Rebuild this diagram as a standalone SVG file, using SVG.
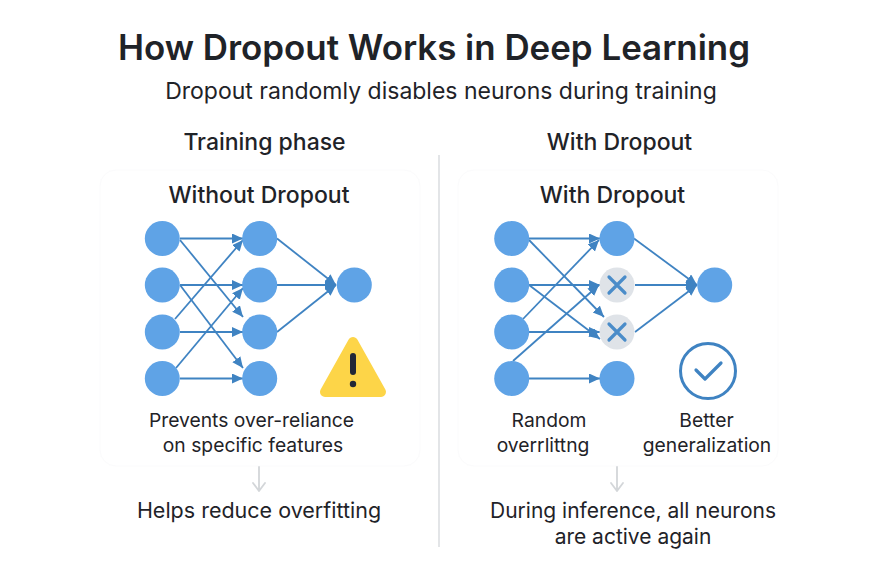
<svg xmlns="http://www.w3.org/2000/svg" width="879" height="579" viewBox="0 0 879 579">
<style>
text{font-family:Inter,"Liberation Sans",sans-serif;fill:#1f2328;text-anchor:middle}
.t{font-size:34.900px;font-weight:600}
.s{font-size:23px}
.h{font-size:23px;font-weight:500}
.b{font-size:19.300px}
.c{font-size:21.500px}
.c2{font-size:21px}
.n{fill:#5fa3e6}
.d{fill:#dfe3e8}
.e{stroke:#3f83c2;stroke-width:1.800;fill:none;marker-end:url(#a)}
.x{stroke:#4a8cc9;stroke-width:3.200;stroke-linecap:round;fill:none}
.g{stroke:#d3d6d9;stroke-width:1.800;fill:none;stroke-linecap:round;stroke-linejoin:round}
.p{fill:#fff;stroke:#fbfbfc;stroke-width:1}
</style>
<defs>
<marker id="a" markerUnits="userSpaceOnUse" markerWidth="13" markerHeight="11" refX="11" refY="5" orient="auto"><path d="M0 0L11 5L0 10Z" fill="#3f83c2"/></marker>
</defs>
<rect width="879" height="579" fill="#fff"/>
<text class="t" x="434" y="60">How Dropout Works in Deep Learning</text>
<text class="s" x="441" y="99">Dropout randomly disables neurons during training</text>
<text class="h" x="264.500" y="150">Training phase</text>
<text class="h" x="619.500" y="150">With Dropout</text>
<line x1="439" y1="155" x2="439" y2="547" stroke="#dcdfe2" stroke-width="1.600"/>
<rect id="panel-left" class="p" x="100" y="170" width="320" height="296" rx="16"/>
<rect id="panel-right" class="p" x="458" y="170" width="320" height="296" rx="16"/>
<text class="h" x="259" y="203">Without Dropout</text>
<text class="h" x="612.500" y="203">With Dropout</text>
<g id="connectors">
<path class="e" d="M180 238.500H243"/>
<path class="e" d="M180 240L243 317"/>
<path class="e" d="M180 285H243"/>
<path class="e" d="M180 285L243 368"/>
<path class="e" d="M175 319L243 240"/>
<path class="e" d="M180 332H243"/>
<path class="e" d="M176 368L243 288"/>
<path class="e" d="M180 378.500H243"/>
<path class="e" d="M277 238.500L336 285"/>
<path class="e" d="M277 285H336"/>
<path class="e" d="M277 332L336 285"/>
<path class="e" d="M529 238.500H600"/>
<path class="e" d="M529 240L604 317"/>
<path class="e" d="M529 285H600"/>
<path class="e" d="M529 285L600 339"/>
<path class="e" d="M523 319L599 240"/>
<path class="e" d="M529 332H600"/>
<path class="e" d="M513 361L599 285"/>
<path class="e" d="M529 378.500H600"/>
<path class="e" d="M634 238.500L697 285"/>
<path class="e" d="M635 285H697"/>
<path class="e" d="M635 332L697 285"/>
<path class="g" d="M259 467V491M253 483L259 491L265 483"/>
<path class="g" d="M617 467V491M611 483L617 491L623 483"/>
</g>
<g id="left-i1"><circle class="n" cx="162.300" cy="238.500" r="17.500"/></g>
<g id="left-i2"><circle class="n" cx="162.300" cy="285" r="17.500"/></g>
<g id="left-i3"><circle class="n" cx="162.300" cy="332" r="17.500"/></g>
<g id="left-i4"><circle class="n" cx="162.300" cy="378.500" r="17.500"/></g>
<g id="left-m1"><circle class="n" cx="259.700" cy="238.500" r="17.500"/></g>
<g id="left-m2"><circle class="n" cx="259.700" cy="285" r="17.500"/></g>
<g id="left-m3"><circle class="n" cx="259.700" cy="332" r="17.500"/></g>
<g id="left-m4"><circle class="n" cx="259.700" cy="378.500" r="17.500"/></g>
<g id="left-o"><circle class="n" cx="354.300" cy="285" r="17.500"/></g>
<g id="right-i1"><circle class="n" cx="511.700" cy="238.500" r="17.500"/></g>
<g id="right-i2"><circle class="n" cx="511.700" cy="285" r="17.500"/></g>
<g id="right-i3"><circle class="n" cx="511.700" cy="332" r="17.500"/></g>
<g id="right-i4"><circle class="n" cx="511.700" cy="378.500" r="17.500"/></g>
<g id="right-m1"><circle class="n" cx="617" cy="238.500" r="17.500"/></g>
<g id="right-m2"><circle class="d" cx="617" cy="285" r="17.500"/><path class="x" d="M609 277L625 293M625 277L609 293"/></g>
<g id="right-m3"><circle class="d" cx="617" cy="332" r="17.500"/><path class="x" d="M609 324L625 340M625 324L609 340"/></g>
<g id="right-m4"><circle class="n" cx="617" cy="378.500" r="17.500"/></g>
<g id="right-o"><circle class="n" cx="714.700" cy="285" r="17.500"/></g>
<g id="warning"><path d="M353 342L381 392H325Z" fill="#fdd548" stroke="#fdd548" stroke-width="10" stroke-linejoin="round"/><path d="M353 356V372" stroke="#232836" stroke-width="6" stroke-linecap="round"/><circle cx="353" cy="384" r="3.200" fill="#232836"/></g>
<g id="check"><circle cx="708" cy="371" r="27.500" fill="#fff" stroke="#3f83c2" stroke-width="3"/><path d="M696 370L705 379L721 363" fill="none" stroke="#3f83c2" stroke-width="3.200" stroke-linecap="round" stroke-linejoin="round"/></g>
<text class="b" x="251.500" y="427">Prevents over-reliance</text>
<text class="b" x="253" y="452">on specific features</text>
<text class="b" x="549" y="427">Random</text>
<text class="b" x="543" y="452">overrlittng</text>
<text class="b" x="706.500" y="427">Better</text>
<text class="b" x="707" y="452">generalization</text>
<text class="c" x="259" y="518">Helps reduce overfitting</text>
<text class="c2" x="633" y="518">During inference, all neurons</text>
<text class="c2" x="633" y="544">are active again</text>
</svg>
